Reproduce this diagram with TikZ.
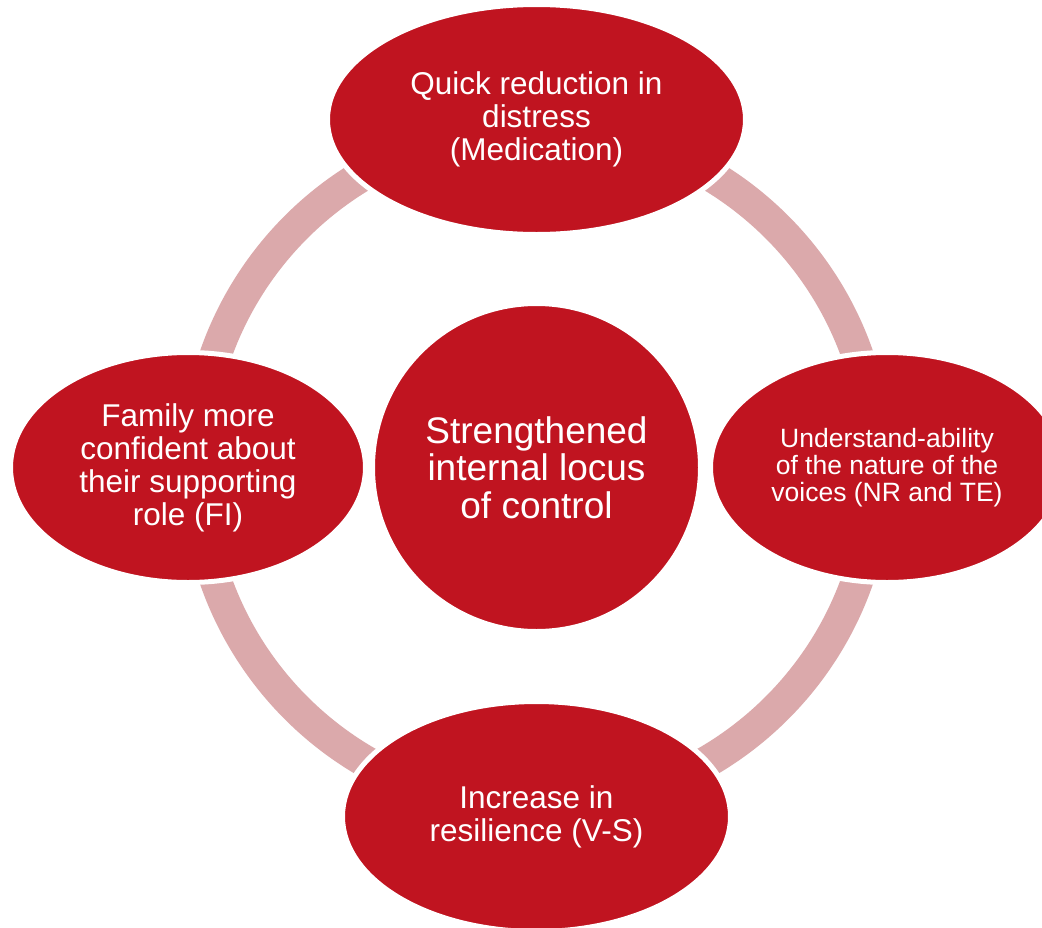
\documentclass[tikz,border=0pt]{standalone}
\usepackage{fontspec}
\setmainfont{Liberation Sans}
\usetikzlibrary{shapes.geometric}
\definecolor{cyred}{RGB}{192,20,32}
\definecolor{cypink}{RGB}{219,169,171}
\begin{document}
\begin{tikzpicture}[x=1pt,y=-1pt,
  bubble/.style={ellipse, fill=cyred, draw=white, line width=5pt, inner sep=0pt, outer sep=0pt, text=white, align=center},
  bigtext/.style={font=\fontsize{31.5}{33}\selectfont},
  ringline/.style={draw=cypink, line width=32pt},
]
\clip (0,0) rectangle (1042,927);
\fill[white] (0,0) rectangle (1042,927);
\coordinate (c) at (536.5,467.5);
\draw[ringline] (c) circle[radius=340];
\node[bubble, bigtext, minimum width=418pt, minimum height=230pt] (top) at (536.5,119.5) {Quick reduction in\\distress\\(Medication)};
\node[bubble, font=\fontsize{26.5}{27}\selectfont, minimum width=353pt, minimum height=230pt] (right) at (887,467.5) {Understand-ability\\of the nature of the\\voices (NR and TE)};
\node[bubble, bigtext, minimum width=388pt, minimum height=230pt] (bottom) at (536.5,816.5) {Increase in\\resilience (V-S)};
\node[bubble, bigtext, minimum width=355pt, minimum height=230pt] (left) at (188,467.5) {Family more\\confident about\\their supporting\\role (FI)};
\node[bubble, font=\fontsize{37}{37.5}\selectfont, minimum width=328pt, minimum height=328pt] (center) at (c) {Strengthened\\internal locus\\of control};
\end{tikzpicture}
\end{document}
